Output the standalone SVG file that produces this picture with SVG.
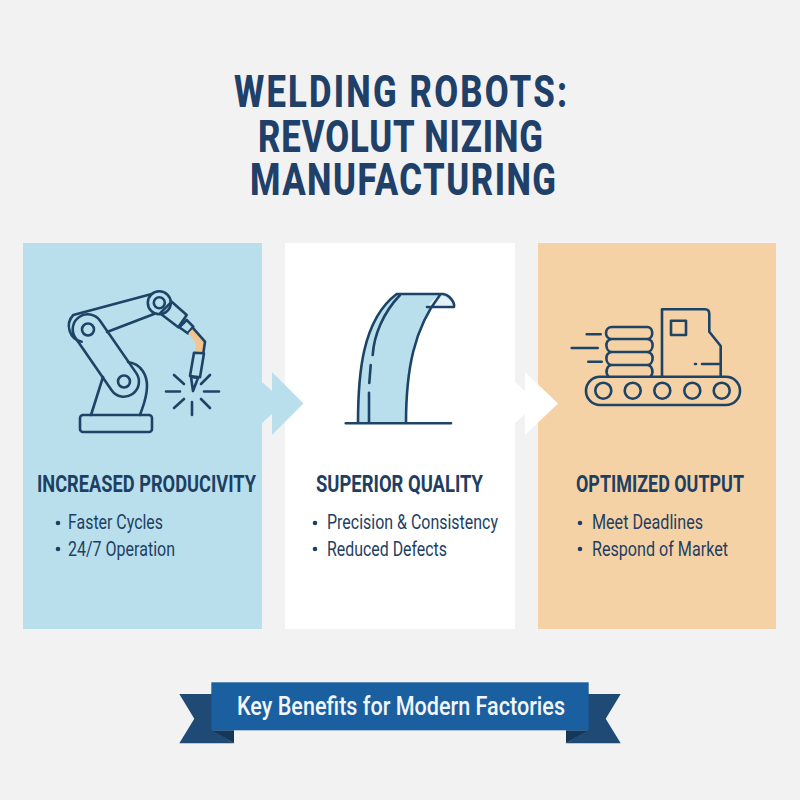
<svg xmlns="http://www.w3.org/2000/svg" width="800" height="800" viewBox="0 0 800 800">
<style>
text{font-family:Roboto,"Liberation Sans",sans-serif;fill:#1e3f63}
.title{font-size:44.500px;font-weight:800;fill:#1f4068}
.head{font-size:23.500px;font-weight:700}
.item{font-size:21px;font-weight:400}
.ln{fill:none;stroke:#1d4466;stroke-width:2.600;stroke-linecap:round;stroke-linejoin:round}
.dot{fill:#1e3f63}
</style>
<rect width="800" height="800" fill="#f2f2f2"/>
<g id="title">
<text class="title" transform="translate(234 107) scale(.78 1)" textLength="427" lengthAdjust="spacing">WELDING ROBOTS:</text>
<text class="title" transform="translate(258 152) scale(.78 1)" textLength="365.400" lengthAdjust="spacing">REVOLUT NIZING</text>
<text class="title" transform="translate(250 195) scale(.78 1)" textLength="392.300" lengthAdjust="spacing">MANUFACTURING</text>
</g>
<g id="panel-productivity">
<rect x="23" y="243" width="239" height="386" fill="#b9dfec"/>
<g id="robot-icon">
<rect class="ln" x="80" y="415" width="72" height="17" rx="3" fill="#b9dfec"/>
<path class="ln" d="M103 377L91 415M128 362C142 364 147 376 147 386C147 398 143 406 140 415"/>
<path class="ln" d="M81.700 341.700A16 16 0 0 1 73.300 315L151.700 294M107 332L154 314"/>
<g transform="translate(87.7 329.3) rotate(55.3)"><rect class="ln" x="-15" y="-15" width="93.700" height="30" rx="15" fill="#b9dfec"/></g>
<circle class="ln" cx="88" cy="329.500" r="6" fill="#f5cf9f"/>
<circle class="ln" cx="124" cy="381.500" r="6" fill="#f5cf9f"/>
<path class="ln" d="M171.700 301.700L186.700 315L178.300 327.300L160 313.300Z" fill="#b9dfec"/>
<path class="ln" d="M179.300 327.300L186.700 320L193.300 326.700L187.700 333.300Z" fill="#d8ecf2"/>
<path d="M193.300 328.300L205 341.700L203.300 353.300H195L196 343.300L188.300 333.300Z" fill="#f3c48e"/>
<path class="ln" d="M193.300 328.300L205 341.700L203.300 353.300"/>
<path class="ln" d="M194 352.700L204 353.300L200 377.300L190 376Z" fill="#a3d5ea"/>
<path class="ln" d="M191 377L198 378L193 391Z" fill="#d8ecf2"/>
<circle class="ln" cx="159.300" cy="302.700" r="11.500" fill="#b9dfec"/>
<circle class="ln" cx="159.300" cy="302.700" r="5.500" fill="#f5cf9f"/>
<path class="ln" d="M166 391.500H180M204 391.500H219M192 402V415M174 375L184 384M210 375L201 384M184 399L174 408M201 399L210 408"/>
</g>
<text class="head" x="37" y="492" textLength="219" lengthAdjust="spacingAndGlyphs">INCREASED PRODUCIVITY</text>
<circle class="dot" cx="58" cy="523" r="2.300"/>
<text class="item" x="68" y="529" textLength="95" lengthAdjust="spacingAndGlyphs">Faster Cycles</text>
<circle class="dot" cx="58" cy="549" r="2.300"/>
<text class="item" x="68" y="555.500" textLength="107" lengthAdjust="spacingAndGlyphs">24/7 Operation</text>
</g>
<g id="panel-quality">
<rect x="285" y="243" width="230" height="386" fill="#ffffff"/>
<g id="curve-icon">
<path d="M358 423C358 375 362 320 396.700 294H443C450 295 455 303 454 307H427L440 295C414 328 406 370 406 423Z" fill="#b9dfec"/>
<path d="M427 307C431 301 436 297 440 295C447 296 453 302 454 307Z" fill="#e4f1f6"/>
<path class="ln" d="M358 423C358 375 362 320 396.700 294H443C450 295 455 303 454 307H427M406 423C406 370 414 328 440 295M345.700 423.300H451M369 423V392.700M370.700 365L369.300 383M372.700 355C374 335 383 313 400 295"/>
</g>
<text class="head" x="316" y="492" textLength="167" lengthAdjust="spacingAndGlyphs">SUPERIOR QUALITY</text>
<circle class="dot" cx="315" cy="523" r="2.300"/>
<text class="item" x="327" y="529" textLength="171" lengthAdjust="spacingAndGlyphs">Precision &amp; Consistency</text>
<circle class="dot" cx="315" cy="549" r="2.300"/>
<text class="item" x="327" y="555.500" textLength="120" lengthAdjust="spacingAndGlyphs">Reduced Defects</text>
</g>
<g id="panel-output">
<rect x="538" y="243" width="238" height="386" fill="#f5d2a5"/>
<g id="conveyor-icon">
<rect class="ln" x="586" y="376.700" width="154" height="28.300" rx="14"/>
<circle class="ln" cx="603.300" cy="390.700" r="8"/><circle class="ln" cx="632.700" cy="390.700" r="8"/><circle class="ln" cx="662.300" cy="390.700" r="8"/><circle class="ln" cx="692.300" cy="390.700" r="8"/><circle class="ln" cx="721.700" cy="390.700" r="8"/>
<path class="ln" d="M608 376C605 372 607 365 612 365H647C652 365 654 372 651 376M612 365C605 365 604 352 612 352H647C655 352 654 365 647 365M612 352C605 352 604 339 612 339H647C655 339 654 352 647 352M612 339C604 339 604 327 612 327H647C654 327 654 339 647 339"/>
<path class="ln" d="M662 376V309.300H705C709 309.300 709.300 312 709.300 314V331.700L720.700 346V376"/>
<rect class="ln" x="671" y="320.700" width="15" height="14.300"/>
<path class="ln" d="M702 364H719M695 364H696M586.700 334.300H600.700M571.700 348H597.700M588.300 361.700H601.700"/>
</g>
<text class="head" x="576" y="492" textLength="168" lengthAdjust="spacingAndGlyphs">OPTIMIZED OUTPUT</text>
<circle class="dot" cx="580" cy="523" r="2.300"/>
<text class="item" x="592" y="529" textLength="111" lengthAdjust="spacingAndGlyphs">Meet Deadlines</text>
<circle class="dot" cx="580" cy="549" r="2.300"/>
<text class="item" x="592" y="555.500" textLength="136" lengthAdjust="spacingAndGlyphs">Respond of Market</text>
</g>
<g id="connectors">
<path d="M262 382L272 391V372L303.500 403.500L272 435V414L262 423Z" fill="#b9dfec"/>
<path d="M515 382L525 391V372L558 403.500L525 435V414L515 423Z" fill="#ffffff"/>
</g>
<g id="banner">
<path d="M179.300 694H212V730L234 743.300H179.300L194.300 718.700Z" fill="#1f4a75"/>
<path d="M620.700 694H588V730L566 743.300H620.700L605.700 718.700Z" fill="#1f4a75"/>
<path d="M211.300 730.300L234 743.300V730.300Z" fill="#143659"/>
<path d="M588.700 730.300L566 743.300V730.300Z" fill="#143659"/>
<rect x="211.300" y="682.300" width="377.400" height="48" fill="#1a5f9f"/>
<text x="237" y="715" font-size="26" font-weight="500" style="fill:#f2f6f9" textLength="328" lengthAdjust="spacingAndGlyphs">Key Benefits for Modern Factories</text>
</g>
</svg>
